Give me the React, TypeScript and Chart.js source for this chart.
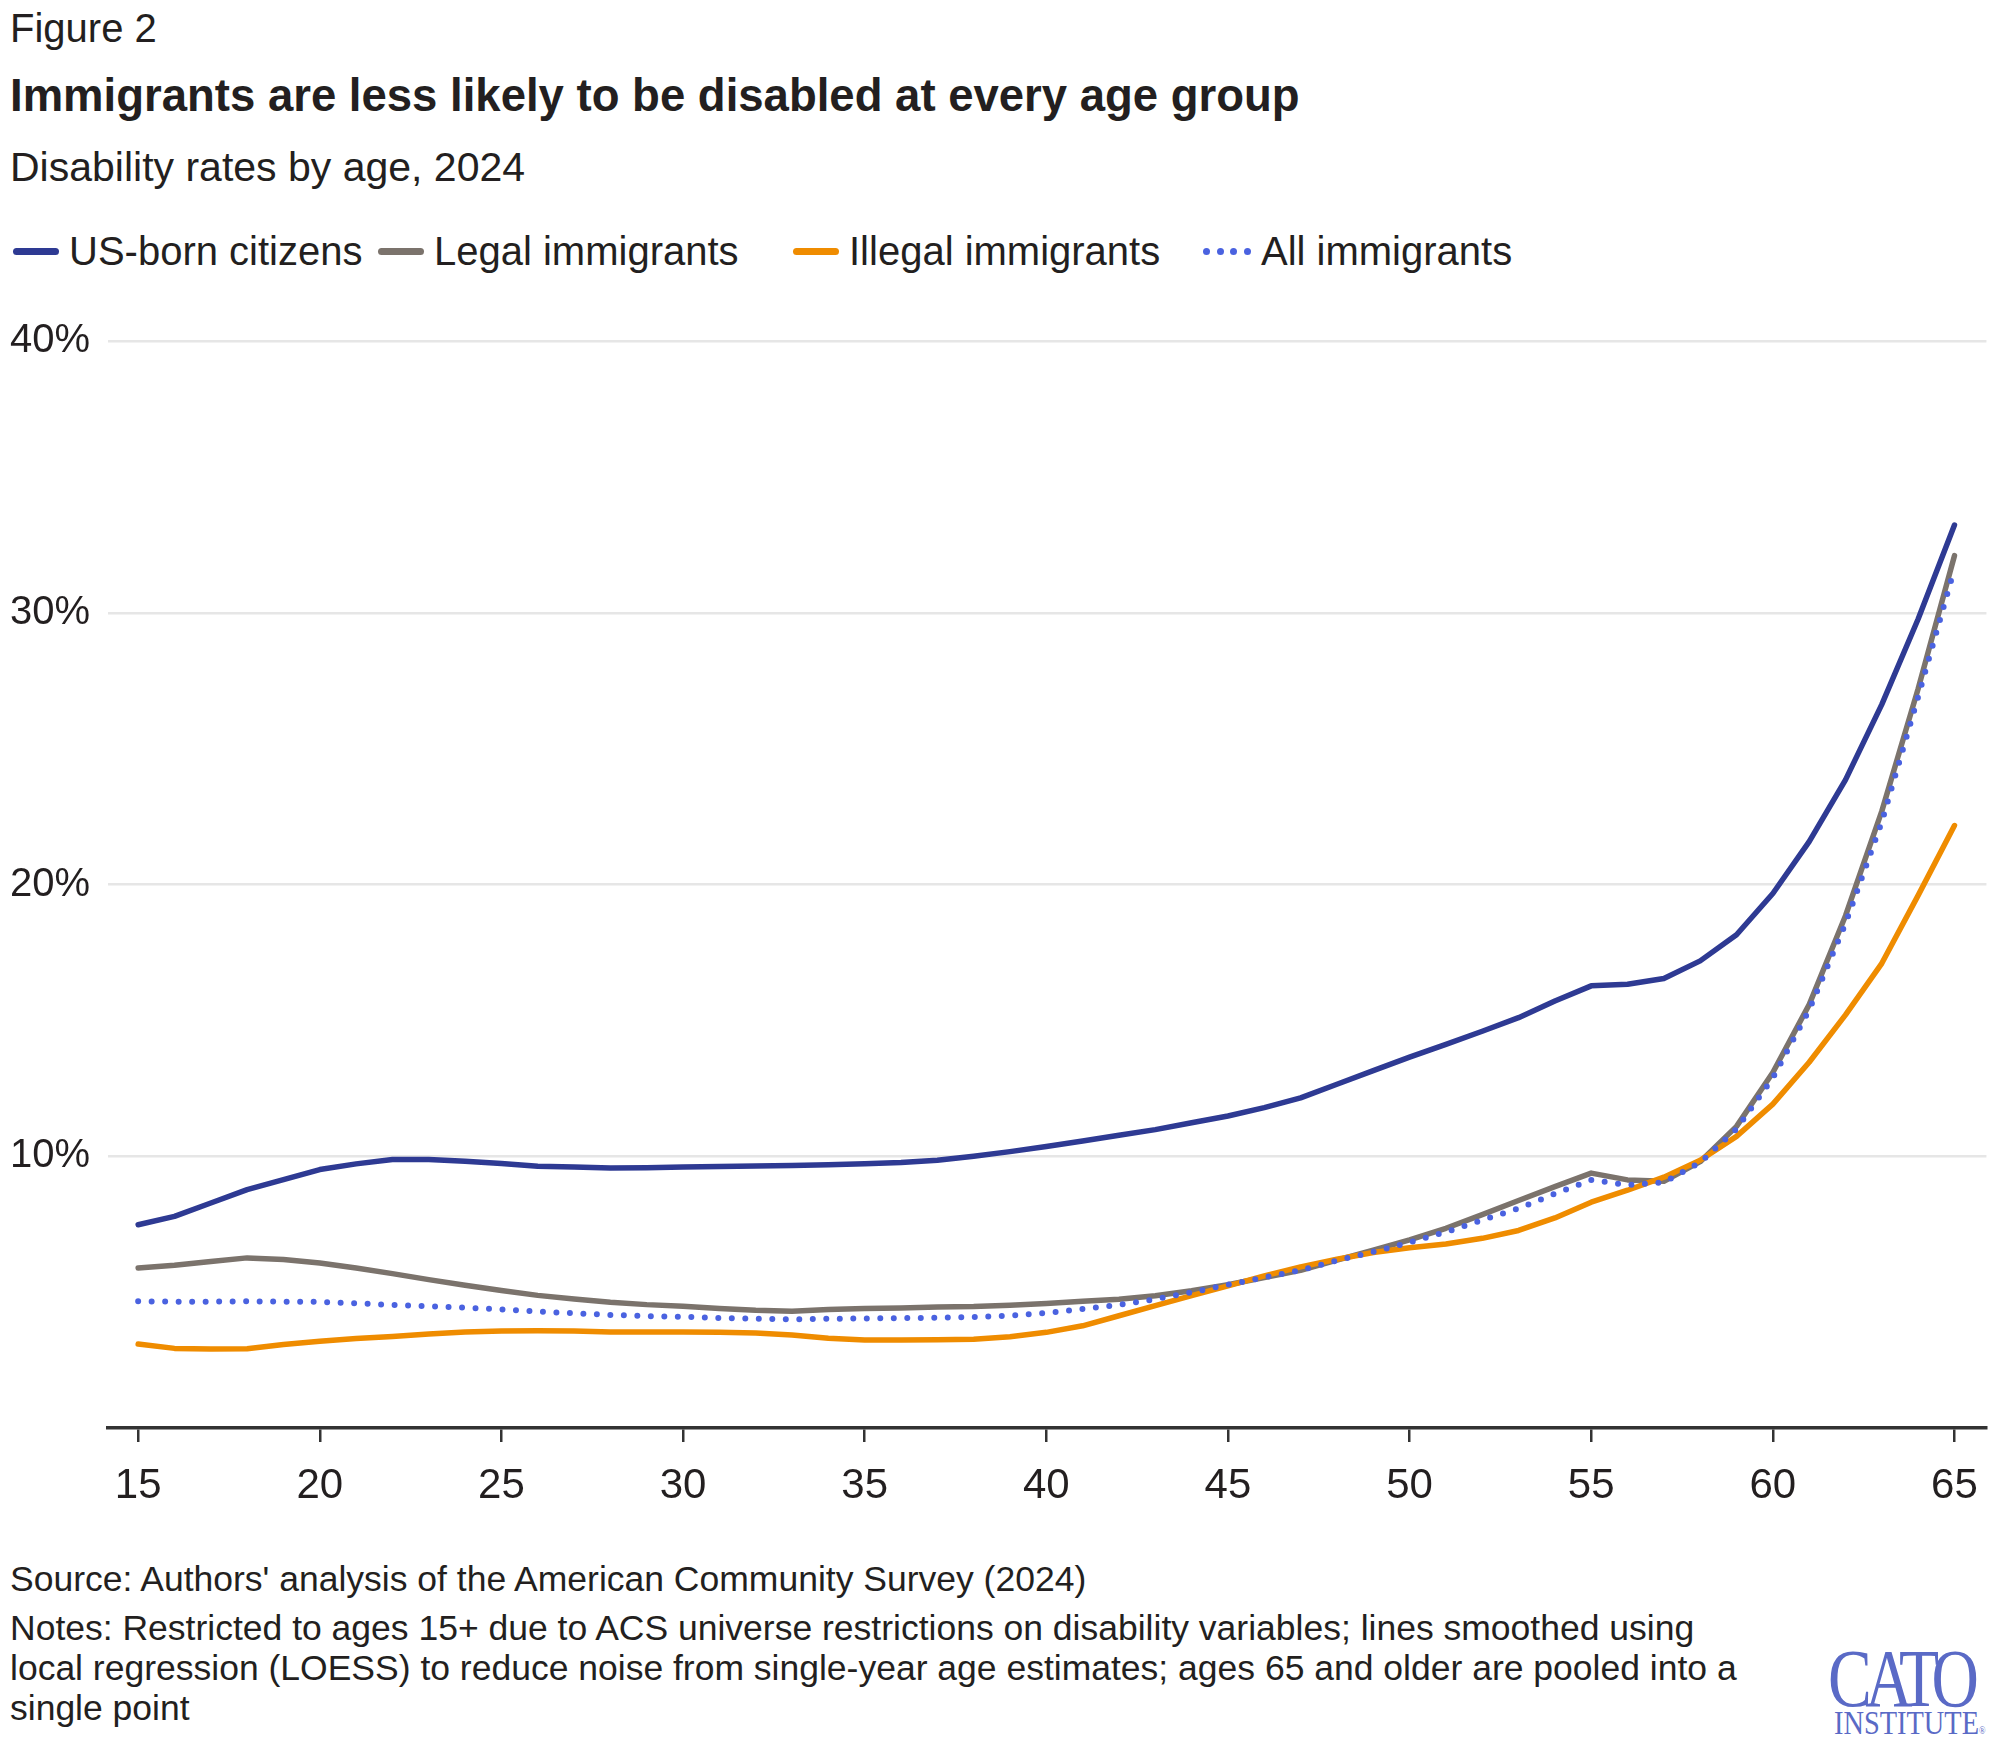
import React, { useEffect, useRef } from "react";
import { Chart, registerables } from "chart.js";

Chart.register(...registerables);

// ages 15..65 (65 = 65 and older pooled)
const ages = [
  15, 16, 17, 18, 19, 20, 21, 22, 23, 24, 25, 26, 27, 28, 29, 30, 31, 32, 33, 34,
  35, 36, 37, 38, 39, 40, 41, 42, 43, 44, 45, 46, 47, 48, 49, 50, 51, 52, 53, 54,
  55, 56, 57, 58, 59, 60, 61, 62, 63, 64, 65,
];

const usBorn = [
  7.48, 7.79, 8.28, 8.77, 9.14, 9.51, 9.72, 9.88, 9.88, 9.82, 9.73, 9.63, 9.6, 9.57, 9.58, 9.6, 9.62, 9.64, 9.66,
  9.69, 9.72, 9.77, 9.85, 10.0, 10.17, 10.36, 10.56, 10.77, 10.98, 11.23, 11.48, 11.79, 12.15, 12.65,
  13.15, 13.65, 14.12, 14.6, 15.1, 15.71, 16.27, 16.33, 16.54, 17.19, 18.15, 19.67, 21.58, 23.85, 26.63, 29.77, 33.23,
];

const legal = [
  5.89, 5.99, 6.13, 6.26, 6.2, 6.07, 5.89, 5.68, 5.46, 5.25, 5.06, 4.88, 4.75, 4.63, 4.54, 4.48, 4.4, 4.33, 4.3,
  4.36, 4.4, 4.42, 4.45, 4.47, 4.52, 4.58, 4.66, 4.74, 4.87, 5.05, 5.27, 5.54, 5.8, 6.18,
  6.54, 6.92, 7.35, 7.85, 8.37, 8.88, 9.38, 9.13, 9.08, 9.8, 11.1, 13.08, 15.58, 18.85, 22.7, 27.2, 32.1,
];

const illegal = [
  3.09, 2.93, 2.91, 2.92, 3.07, 3.19, 3.29, 3.37, 3.46, 3.53, 3.57, 3.58, 3.57, 3.53, 3.53, 3.53, 3.52, 3.5, 3.42,
  3.3, 3.24, 3.24, 3.25, 3.27, 3.36, 3.52, 3.76, 4.13, 4.5, 4.87, 5.23, 5.6, 5.93, 6.21,
  6.46, 6.63, 6.77, 6.98, 7.27, 7.73, 8.31, 8.75, 9.23, 9.85, 10.73, 11.92, 13.46, 15.2, 17.1, 19.6, 22.17,
];

const allImmigrants = [
  4.66, 4.65, 4.65, 4.66, 4.65, 4.64, 4.59, 4.53, 4.48, 4.43, 4.36, 4.29, 4.22, 4.16, 4.12, 4.09, 4.05, 4.02, 4.0,
  4.02, 4.03, 4.04, 4.06, 4.08, 4.13, 4.23, 4.38, 4.53, 4.74, 4.99, 5.27, 5.54, 5.81, 6.16,
  6.48, 6.83, 7.21, 7.65, 8.08, 8.62, 9.13, 8.94, 9.04, 9.77, 11.0, 12.88, 15.38, 18.56, 22.3, 26.9, 31.63,
];

const xTicks = [15, 20, 25, 30, 35, 40, 45, 50, 55, 60, 65];
const yTicks = [0, 10, 20, 30, 40];

const seriesNames = ["US-born citizens", "Legal immigrants", "Illegal immigrants", "All immigrants"];

const FONT = '"Liberation Sans", Arial, sans-serif';
const TEXT = "#231f20";
const COLORS = ["#2e3a93", "#7b736c", "#ef8c00", "#4a62e0"];

// legend placement (px from left)
const legendLeft = [13, 378, 793, 1203];

const toPoints = (vals: number[]) => ages.map((a, i) => ({ x: a, y: vals[i] }));

const App = () => {
  const canvasRef = useRef<HTMLCanvasElement | null>(null);

  useEffect(() => {
    document.body.style.margin = "0";
    const ctx = canvasRef.current!.getContext("2d") as CanvasRenderingContext2D;

    const line = (i: number, vals: number[], order: number, dotted = false) => ({
      label: seriesNames[i],
      data: toPoints(vals),
      borderColor: COLORS[i],
      backgroundColor: COLORS[i],
      borderWidth: dotted ? 6 : 5.5,
      borderDash: dotted ? [0, 13.5] : [],
      borderCapStyle: "round",
      borderJoinStyle: "round",
      pointRadius: 0,
      tension: 0,
      fill: false,
      order: order,
    });

    const chart = new Chart(ctx, {
      type: "line",
      data: {
        datasets: [
          line(0, usBorn, 3),
          line(1, legal, 2),
          line(2, illegal, 1),
          line(3, allImmigrants, 0, true),
        ],
      },
      options: {
        animation: false,
        responsive: false,
        devicePixelRatio: 1,
        layout: { padding: { left: 10, right: 10, top: 41, bottom: 10 } },
        plugins: { legend: { display: false }, tooltip: { enabled: false } },
        scales: {
          x: {
            type: "linear",
            min: 14.17,
            max: 65.88,
            afterBuildTicks: (s: any) => {
              s.ticks = xTicks.map((v) => ({ value: v }));
            },
            afterFit: (s: any) => {
              s.height = 92;
            },
            border: { display: true, color: "#333333", width: 3.5 },
            grid: {
              drawOnChartArea: false,
              drawTicks: true,
              tickLength: 14,
              color: "#333333",
              lineWidth: 2.5,
            },
            ticks: {
              padding: 19,
              color: TEXT,
              font: { family: FONT, size: 42 },
              maxRotation: 0,
              callback: (v: any) => String(v),
            },
          },
          y: {
            min: 0,
            max: 40,
            afterBuildTicks: (s: any) => {
              s.ticks = yTicks.map((v) => ({ value: v }));
            },
            afterFit: (s: any) => {
              s.width = 98;
            },
            border: { display: false },
            grid: {
              drawTicks: false,
              lineWidth: 2.5,
              color: (c: any) => (c.tick && c.tick.value === 0 ? "rgba(0,0,0,0)" : "#e6e6e6"),
            },
            ticks: {
              crossAlign: "far",
              padding: 0,
              color: TEXT,
              font: { family: FONT, size: 40 },
              callback: (v: any) => (v === 0 ? "" : v + "%"),
            },
          },
        },
      },
    } as any);

    return () => {
      chart.destroy();
    };
  }, []);

  const txt = (extra: React.CSSProperties): React.CSSProperties => ({
    position: "absolute",
    fontFamily: FONT,
    color: TEXT,
    whiteSpace: "nowrap",
    ...extra,
  });

  return (
    <div style={{ position: "relative", width: 1997, height: 1748, background: "#ffffff", overflow: "hidden" }}>
      <div style={txt({ left: 10, top: 4, fontSize: 40, lineHeight: "48px" })}>Figure 2</div>
      <div style={txt({ left: 10, top: 69, fontSize: 45.5, lineHeight: "54px", fontWeight: 700 })}>
        Immigrants are less likely to be disabled at every age group
      </div>
      <div style={txt({ left: 10, top: 142, fontSize: 41, lineHeight: "50px" })}>Disability rates by age, 2024</div>

      {seriesNames.map((name, i) => (
        <div key={name} style={txt({ left: legendLeft[i], top: 226, height: 50, display: "flex", alignItems: "center" })}>
          {i === 3 ? (
            <div style={{ width: 48, display: "flex", justifyContent: "space-between" }}>
              {[0, 1, 2, 3].map((d) => (
                <span key={d} style={{ width: 7, height: 7, borderRadius: 3.5, background: COLORS[i], display: "block" }} />
              ))}
            </div>
          ) : (
            <div style={{ width: 46, height: 7, borderRadius: 3.5, background: COLORS[i] }} />
          )}
          <span style={{ marginLeft: 10, fontSize: 40, lineHeight: "50px" }}>{name}</span>
        </div>
      ))}

      <canvas ref={canvasRef} width={1997} height={1230} style={{ position: "absolute", left: 0, top: 300 }} />

      <div style={txt({ left: 10, top: 1559, fontSize: 35.5, lineHeight: "40px" })}>
        Source: Authors' analysis of the American Community Survey (2024)
      </div>
      <div style={txt({ left: 10, top: 1608, fontSize: 35.5, lineHeight: "40px" })}>
        Notes: Restricted to ages 15+ due to ACS universe restrictions on disability variables; lines smoothed using
        <br />
        local regression (LOESS) to reduce noise from single-year age estimates; ages 65 and older are pooled into a
        <br />
        single point
      </div>

      <div
        style={{
          position: "absolute",
          left: 1828,
          top: 1638,
          fontFamily: '"Liberation Serif", "DejaVu Serif", serif',
          fontSize: 82,
          lineHeight: "82px",
          letterSpacing: -8,
          color: "#5a6ac6",
          transform: "scaleX(0.8)",
          transformOrigin: "left top",
          whiteSpace: "nowrap",
        }}
      >
        CATO
      </div>
      <div
        style={{
          position: "absolute",
          left: 1834,
          top: 1707,
          fontFamily: '"Liberation Serif", "DejaVu Serif", serif',
          fontSize: 33,
          lineHeight: "33px",
          color: "#5a6ac6",
          transform: "scaleX(0.86)",
          transformOrigin: "left top",
          whiteSpace: "nowrap",
        }}
      >
        INSTITUTE<span style={{ fontSize: 10 }}>®</span>
      </div>
    </div>
  );
};

export default App;
